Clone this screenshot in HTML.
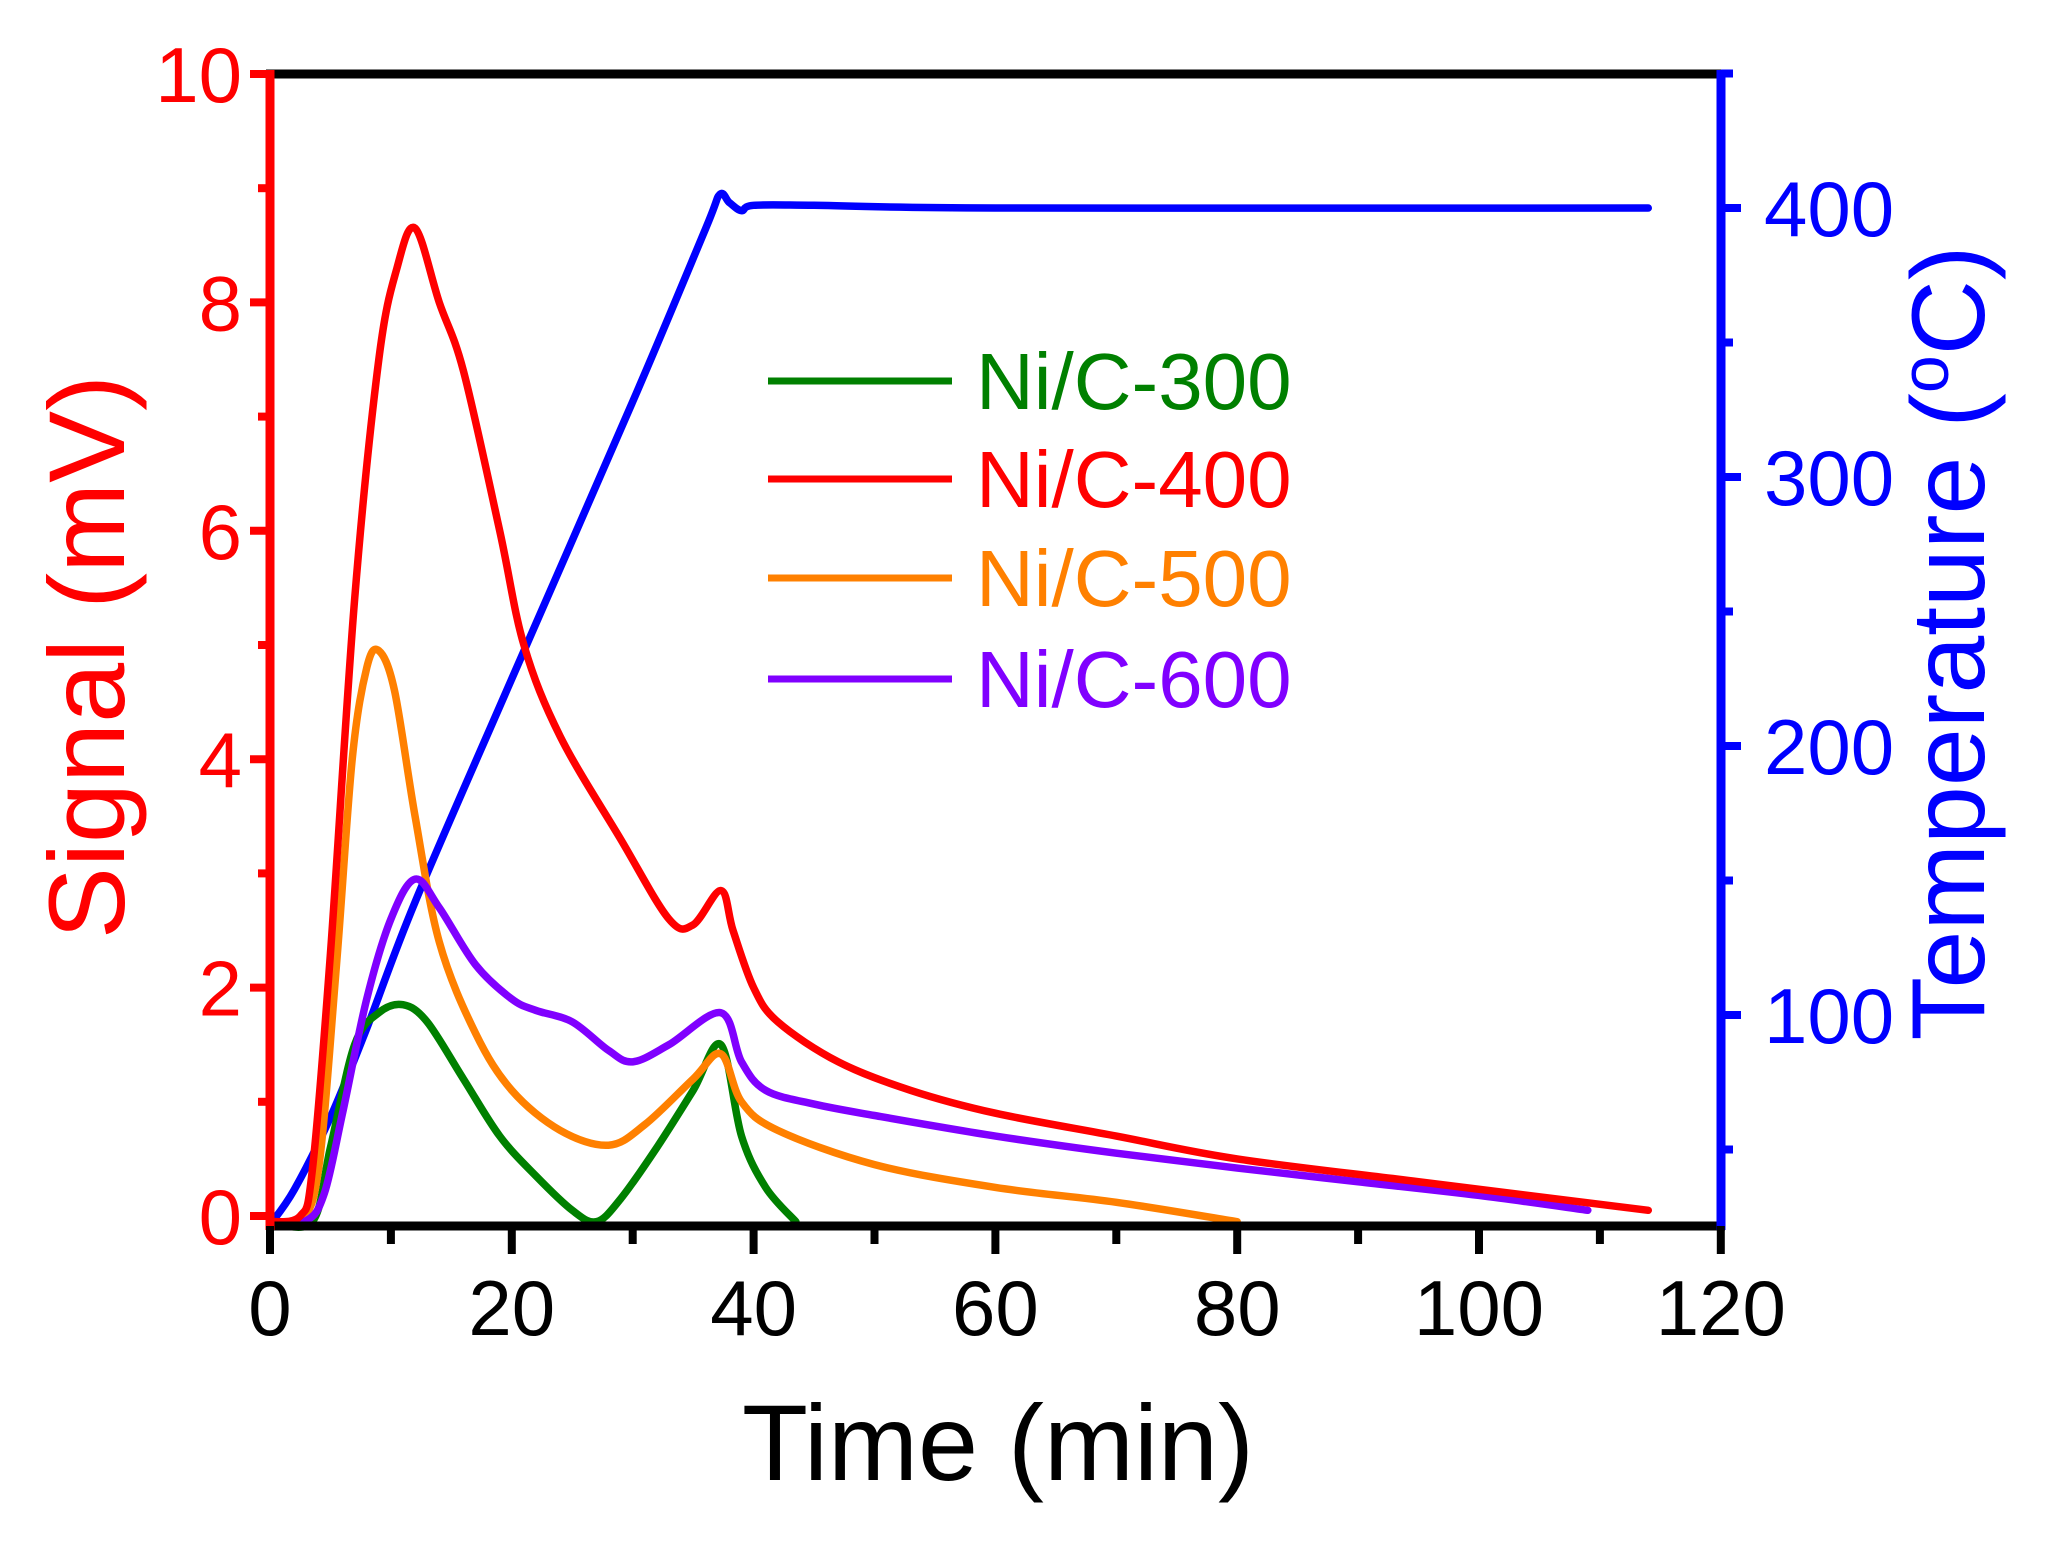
<!DOCTYPE html>
<html><head><meta charset="utf-8"><style>
html,body{margin:0;padding:0;background:#fff;}
svg{display:block;font-family:"Liberation Sans",Arial,sans-serif;}
</style></head><body>
<svg id="s" width="2056" height="1545" viewBox="0 0 2056 1545" xmlns="http://www.w3.org/2000/svg">
<g id="plot"></g>
<line x1="266" y1="74" x2="1725" y2="74" stroke="#000" stroke-width="9"/>
<line x1="266" y1="1226" x2="1725" y2="1226" stroke="#000" stroke-width="9"/>
<line x1="270" y1="70" x2="270" y2="1230" stroke="#f00" stroke-width="9"/>
<line x1="1721" y1="70" x2="1721" y2="1230" stroke="#00f" stroke-width="9"/>
<g id="ticks"></g>
<g font-size="78" fill="#f00" text-anchor="end" id="yl"></g>
<g font-size="78" fill="#00f" text-anchor="start" id="yr"></g>
<g font-size="78" fill="#000" text-anchor="middle" id="xl"></g>
<text x="998" y="1480" font-size="108" text-anchor="middle" fill="#000">Time (min)</text>
<text transform="translate(124,657) rotate(-90)" font-size="108" text-anchor="middle" fill="#f00">Signal (mV)</text>
<text transform="translate(1984,643) rotate(-90)" font-size="104" text-anchor="middle" fill="#00f">Temperature (<tspan font-size="68" dy="-36">o</tspan><tspan dy="36">C)</tspan></text>
<g font-size="80" stroke-width="7">
<line x1="768" y1="381" x2="952" y2="381" stroke="#008000"/><text x="976" y="409" fill="#008000">Ni/C-300</text>
<line x1="768" y1="479" x2="952" y2="479" stroke="#f00"/><text x="976" y="507" fill="#f00">Ni/C-400</text>
<line x1="768" y1="578" x2="952" y2="578" stroke="#ff8000"/><text x="976" y="606" fill="#ff8000">Ni/C-500</text>
<line x1="768" y1="679" x2="952" y2="679" stroke="#8000ff"/><text x="976" y="707" fill="#8000ff">Ni/C-600</text>
</g>
</svg>
<script>
var X=function(t){return 270+t*12.09;},Y=function(v){return 1216-v*114.2;},T=function(c){return 1015-(c-100)*2.69;};
function path(pts,fy){var p=pts.map(function(a){return [X(a[0]),fy(a[1])];});var d="M"+p[0][0]+","+p[0][1];
for(var i=0;i<p.length-1;i++){var p0=p[i-1]||p[i],p1=p[i],p2=p[i+1],p3=p[i+2]||p2;
d+=" C"+(p1[0]+(p2[0]-p0[0])/6)+","+(p1[1]+(p2[1]-p0[1])/6)+" "+(p2[0]-(p3[0]-p1[0])/6)+","+(p2[1]-(p3[1]-p1[1])/6)+" "+p2[0]+","+p2[1];}return d;}
var S=[
["#00f",[[0,22],[2,35],[5,62],[8,95],[12,142],[20,225],[30,328],[36,392],[37.2,405],[38,402],[39,399],[40,401],[45,401],[60,400],[114,400]],T],
["#008000",[[0,-0.05],[3.5,-0.05],[5,0.6],[7,1.5],[9,1.78],[11,1.85],[13,1.7],[16,1.2],[19,0.7],[22,0.35],[25,0.05],[27,-0.05],[29,0.15],[32,0.6],[35,1.1],[37.3,1.5],[39,0.7],[41,0.25],[43.5,-0.05]],Y],
["#ff8000",[[0,-0.05],[2.5,-0.03],[4,0.4],[5.5,2.2],[6.8,4.0],[8,4.8],[9,4.95],[10.3,4.6],[12,3.5],[14,2.4],[17,1.6],[20,1.1],[24,0.75],[28,0.62],[31,0.8],[35,1.2],[37.3,1.42],[39,1.0],[42,0.75],[50,0.45],[60,0.25],[70,0.12],[80,-0.05]],Y],
["#8000ff",[[0,-0.05],[3,-0.04],[4.5,0.2],[6,0.9],[8,1.9],[10,2.6],[12,2.95],[14,2.7],[17,2.2],[20,1.9],[22,1.8],[25,1.7],[28,1.45],[30,1.35],[33,1.5],[37.3,1.78],[39,1.35],[41,1.1],[45,0.98],[50,0.88],[60,0.7],[70,0.55],[80,0.42],[90,0.3],[100,0.18],[109,0.05]],Y],
["#f00",[[0,-0.05],[2.5,0],[3.5,0.4],[5,2.3],[7,5.4],[9,7.5],[10.5,8.3],[12,8.65],[14,8.0],[16,7.4],[19,6.0],[21,5.0],[24,4.2],[29,3.3],[33,2.6],[35,2.55],[37.3,2.85],[38.3,2.5],[40,2.0],[42,1.7],[47,1.35],[53,1.1],[60,0.9],[70,0.7],[80,0.5],[95,0.3],[114,0.05]],Y]];
var h="";S.forEach(function(s){h+='<path d="'+path(s[1],s[2])+'" fill="none" stroke="'+s[0]+'" stroke-width="7.5" stroke-linejoin="round" stroke-linecap="round"/>';});
document.getElementById("plot").innerHTML=h;
var tk="",yl="",yr="",xl="";
for(var v=0;v<=10;v++){var y=Y(v);var big=v%2==0;if(v==10)y=74;
tk+='<line x1="'+(big?250:258)+'" y1="'+y+'" x2="270" y2="'+y+'" stroke="#f00" stroke-width="8"/>';
if(big)yl+='<text x="242" y="'+(y+28)+'">'+v+'</text>';}
for(var c=50;c<=450;c+=50){var y=T(c);var big=c%100==0;
tk+='<line x1="1721" y1="'+y+'" x2="'+(big?1741:1733)+'" y2="'+y+'" stroke="#00f" stroke-width="8"/>';
if(big)yr+='<text x="1764" y="'+(y+28)+'">'+c+'</text>';}
for(var t=0;t<=120;t+=10){var x=X(t);var big=t%20==0;
tk+='<line x1="'+x+'" y1="1226" x2="'+x+'" y2="'+(big?1254:1244)+'" stroke="#000" stroke-width="8"/>';
if(big)xl+='<text x="'+x+'" y="1335">'+t+'</text>';}
document.getElementById("ticks").innerHTML=tk;
document.getElementById("yl").innerHTML=yl;document.getElementById("yr").innerHTML=yr;document.getElementById("xl").innerHTML=xl;
</script>
</body></html>
